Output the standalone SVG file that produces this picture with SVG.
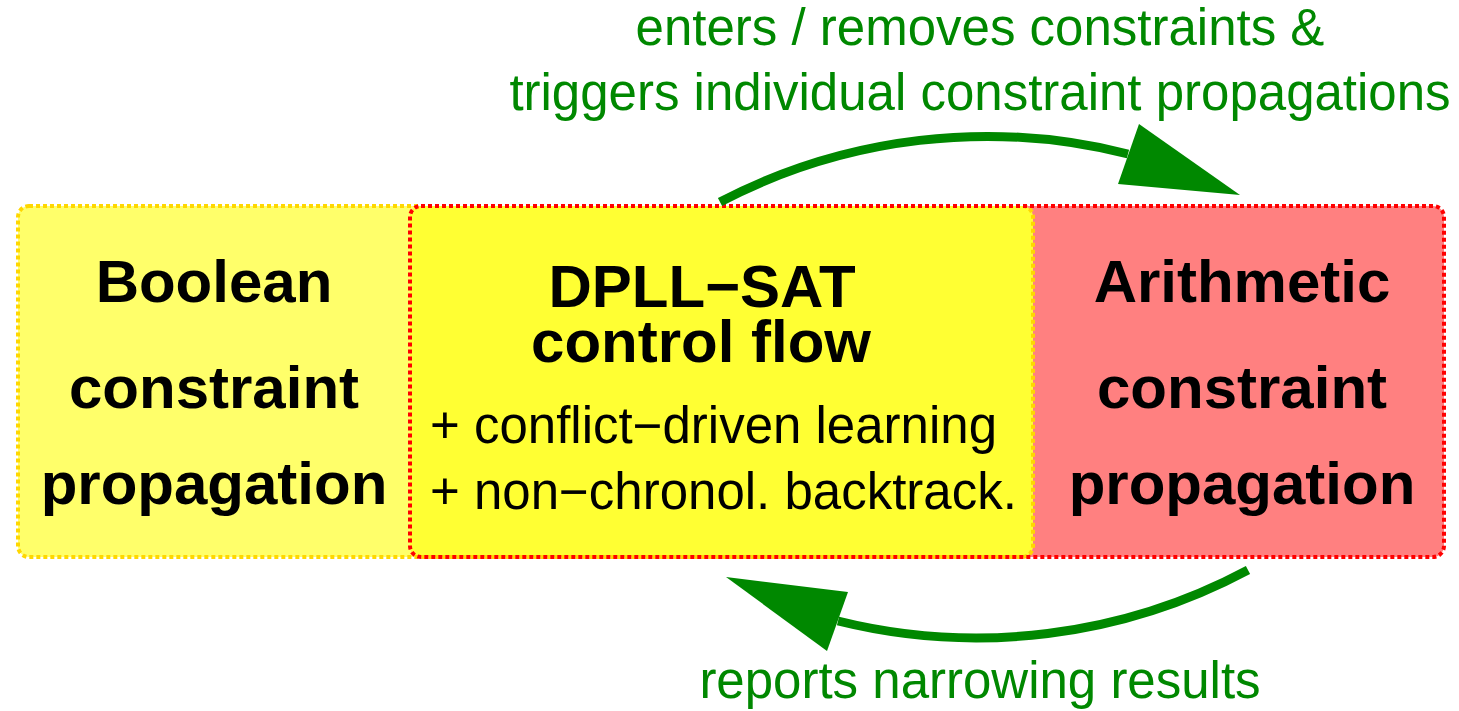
<svg xmlns="http://www.w3.org/2000/svg" width="1459" height="711" viewBox="0 0 1459 711">
<style>
.bold{font-family:"Liberation Sans",Arial,sans-serif;font-weight:bold;font-size:60px;fill:#000;text-anchor:middle}
.reg{font-family:"Liberation Sans",Arial,sans-serif;font-size:51px;fill:#000}
.grn{font-family:"Liberation Sans",Arial,sans-serif;font-size:51px;fill:#008800;text-anchor:middle}
.bord{fill:none;stroke-width:4;stroke-dasharray:4 3}
.conn{fill:none;stroke:#008800;stroke-width:9}
.head{fill:#008800}
</style>
<rect width="1459" height="711" fill="#fff"/>
<g id="fills">
<rect x="18" y="206" width="1015" height="351" rx="11" fill="#FFFF6A"/>
<rect x="410" y="206" width="1034" height="351" rx="11" fill="#FF8080"/>
<rect x="410" y="206" width="623" height="351" rx="11" fill="#FFFF33"/>
</g>
<g id="boolean">
<rect class="bord" x="18" y="206" width="1015" height="351" rx="11" stroke="#FFD700"/>
<text class="bold" x="214" y="302">Boolean</text>
<text class="bold" x="214" y="408">constraint</text>
<text class="bold" x="214" y="504">propagation</text>
</g>
<g id="arithmetic">
<rect class="bord" x="410" y="206" width="1034" height="351" rx="11" stroke="#FF0000"/>
<text class="bold" x="1242" y="302">Arithmetic</text>
<text class="bold" x="1242" y="408">constraint</text>
<text class="bold" x="1242" y="504">propagation</text>
</g>
<g id="dpll">
<text class="bold" x="702" y="307">DPLL−SAT</text>
<text class="bold" x="701" y="362">control flow</text>
<text class="reg" x="430" y="443">+ conflict−driven learning</text>
<text class="reg" x="430" y="509">+ non−chronol. backtrack.</text>
</g>
<g id="connectors">
<path class="conn" d="M720,202 A576,576 0 0 1 1128,154"/>
<polygon class="head" points="1240,195 1139,124 1118,184"/>
<path class="conn" d="M1248,570 A576,576 0 0 1 838,621"/>
<polygon class="head" points="726,577 848,592 827,651"/>
</g>
<g id="labels">
<text class="grn" x="980" y="45">enters / removes constraints &amp;</text>
<text class="grn" x="980" y="110">triggers individual constraint propagations</text>
<text class="grn" x="980" y="698">reports narrowing results</text>
</g>
</svg>
